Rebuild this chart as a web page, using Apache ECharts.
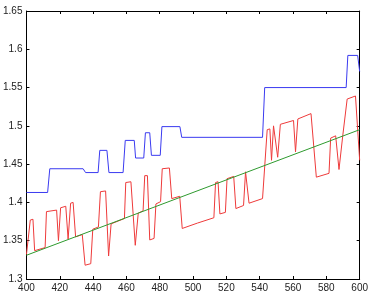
<!DOCTYPE html>
<html>
<head>
<meta charset="utf-8">
<script src="https://cdn.jsdelivr.net/npm/echarts@6/dist/echarts.min.js"></script>
<style>
  html, body { margin: 0; padding: 0; background: #fff; }
  #chart { width: 371px; height: 297px; }
</style>
</head>
<body>
<div id="chart"></div>
<script>
const xTicks = [400, 420, 440, 460, 480, 500, 520, 540, 560, 580, 600];
const yTicks = [1.3, 1.35, 1.4, 1.45, 1.5, 1.55, 1.6, 1.65];

// blue step curve [x, y]
const bluePts = [
  [400, 1.413], [412.7, 1.413], [414.0, 1.444], [434.0, 1.444], [435.5, 1.439],
  [443.0, 1.439], [444.0, 1.468], [448.3, 1.468], [449.5, 1.439], [458.0, 1.439],
  [459.3, 1.481], [464.7, 1.481], [465.5, 1.458], [470.4, 1.458], [471.4, 1.491],
  [474.0, 1.491], [475.0, 1.4615], [480.3, 1.4615], [481.3, 1.499], [492.1, 1.499],
  [493.2, 1.485], [541.7, 1.485], [543.0, 1.550], [591.9, 1.550], [592.9, 1.592],
  [598.8, 1.592], [600, 1.571]
];

// red jagged curve [x, y]
const redPts = [
  [400, 1.332], [402.3, 1.377], [403.9, 1.378], [404.9, 1.337], [411.2, 1.341],
  [412.0, 1.388], [418.1, 1.390], [419.2, 1.350], [420.5, 1.393], [423.6, 1.395],
  [425.0, 1.352], [426.5, 1.399], [428.0, 1.400], [429.5, 1.355], [433.5, 1.358],
  [435.2, 1.318], [438.6, 1.320], [439.8, 1.365], [443.2, 1.368], [444.4, 1.414],
  [447.5, 1.415], [449.3, 1.330], [450.8, 1.372], [458.8, 1.379], [459.6, 1.426],
  [462.7, 1.427], [465.3, 1.344], [466.2, 1.345], [467.1, 1.386], [470.0, 1.389],
  [471.0, 1.435], [472.6, 1.435], [474.0, 1.351], [476.6, 1.353], [477.7, 1.398],
  [480.5, 1.401], [481.5, 1.444], [485.8, 1.445], [487.2, 1.405], [492.0, 1.408],
  [493.5, 1.366], [502.6, 1.373], [512.5, 1.380], [513.5, 1.426], [515.0, 1.427],
  [516.1, 1.385], [519.4, 1.387], [520.4, 1.431], [524.4, 1.434], [525.7, 1.392],
  [530.3, 1.396], [531.5, 1.440], [532.7, 1.441], [533.6, 1.399], [541.7, 1.405],
  [544.5, 1.495], [546.1, 1.496], [547.1, 1.455], [548.3, 1.500], [549.5, 1.500],
  [550.8, 1.459], [552.4, 1.502], [560.3, 1.507], [561.5, 1.466], [562.9, 1.509],
  [570.8, 1.516], [574.0, 1.433], [581.6, 1.438], [582.6, 1.484], [585.6, 1.487],
  [587.6, 1.443], [588.7, 1.443], [589.9, 1.488], [592.5, 1.535], [597.5, 1.539],
  [600, 1.455]
];

// green straight fit
const greenPts = [[400, 1.331], [600, 1.495]];

const chart = echarts.init(document.getElementById('chart'));

const font = { fontFamily: 'Liberation Sans, Arial, sans-serif', fontSize: 10, color: '#222' };
const axisLine = { show: true, lineStyle: { color: '#000', width: 1 } };
const tick = { show: true, inside: true, length: 3, lineStyle: { color: '#000' } };

function line(name, data, color) {
  return {
    name, type: 'line', data,
    xAxisIndex: 0, yAxisIndex: 0,
    showSymbol: false, symbol: 'none',
    lineStyle: { color, width: 1 },
    animation: false
  };
}

chart.setOption({
  animation: false,
  grid: { left: 26, right: 7, top: 11, bottom: 18, containLabel: false },
  xAxis: [
    {
      type: 'value', min: xTicks[0], max: xTicks[xTicks.length - 1], interval: 20,
      position: 'bottom', axisLine, axisTick: tick, splitLine: { show: false },
      axisLabel: { ...font, margin: 4 }
    },
    {
      type: 'value', min: xTicks[0], max: xTicks[xTicks.length - 1], interval: 20,
      position: 'top', axisLine, axisTick: tick, splitLine: { show: false },
      axisLabel: { show: false }
    }
  ],
  yAxis: [
    {
      type: 'value', min: yTicks[0], max: yTicks[yTicks.length - 1], interval: 0.05,
      position: 'left', axisLine, axisTick: tick, splitLine: { show: false },
      axisLabel: { ...font, margin: 4, formatter: v => String(+v.toFixed(2)) }
    },
    {
      type: 'value', min: yTicks[0], max: yTicks[yTicks.length - 1], interval: 0.05,
      position: 'right', axisLine, axisTick: tick, splitLine: { show: false },
      axisLabel: { show: false }
    }
  ],
  series: [
    line('blue', bluePts, '#3a3af0'),
    line('red', redPts, '#ee3a3a'),
    line('green', greenPts, '#2e9a2e')
  ]
});
</script>
</body>
</html>
